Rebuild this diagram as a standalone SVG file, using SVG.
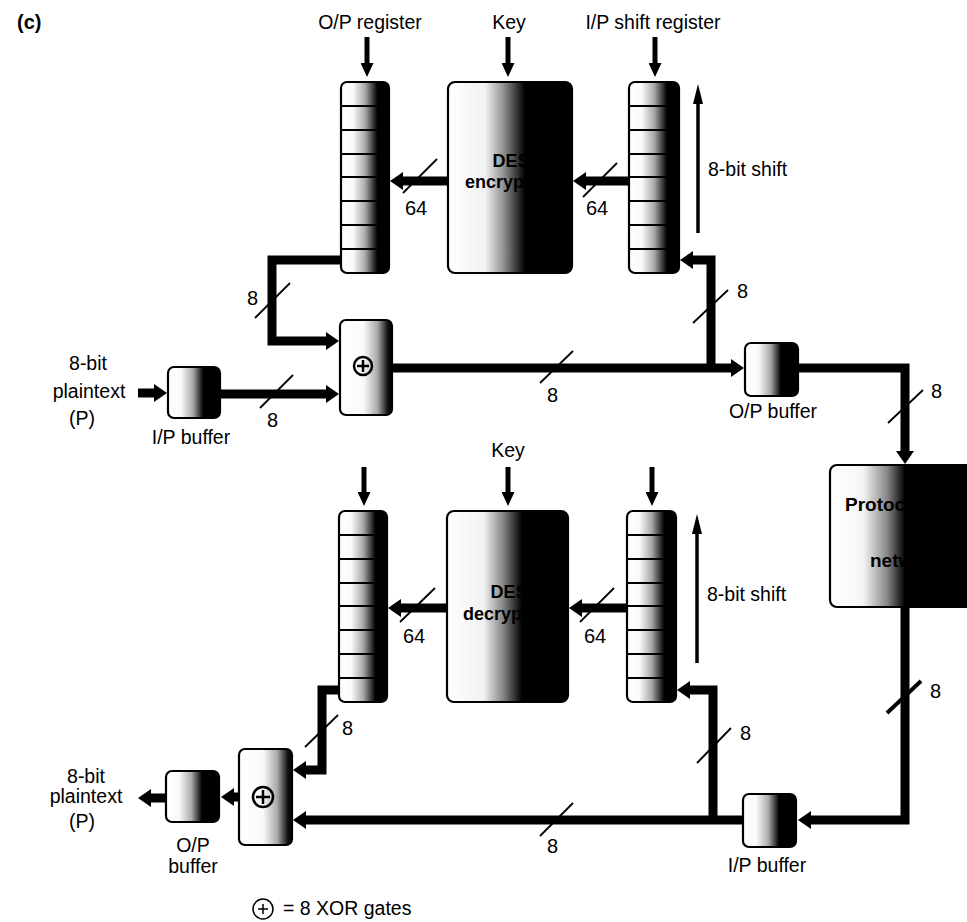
<svg xmlns="http://www.w3.org/2000/svg" width="967" height="922" viewBox="0 0 967 922">
<style>
text{font-family:"Liberation Sans",Arial,sans-serif;font-size:19.5px;fill:#000}
.b{font-weight:bold}
.c{text-anchor:middle}
.box{stroke:#000;stroke-width:2.2}
.cell{stroke:#000;stroke-width:1.8;fill:none}
.thick{fill:none;stroke:#000;stroke-width:9;stroke-linejoin:miter}
.thin{fill:none;stroke:#000;stroke-width:5}
.shift{fill:none;stroke:#000;stroke-width:3.5}
.slash{stroke:#000;stroke-width:1.8}
.num{font-size:20px}
</style>
<defs>
<linearGradient id="gReg" x1="0" x2="1" y1="0" y2="0">
<stop offset="0" stop-color="#fff"/><stop offset="0.25" stop-color="#fafafa"/><stop offset="0.5" stop-color="#aaa"/><stop offset="0.76" stop-color="#000"/><stop offset="1" stop-color="#000"/>
</linearGradient>
<linearGradient id="gDes" x1="0" x2="1" y1="0" y2="0">
<stop offset="0" stop-color="#fff"/><stop offset="0.3" stop-color="#f2f2f2"/><stop offset="0.46" stop-color="#888"/><stop offset="0.62" stop-color="#000"/><stop offset="1" stop-color="#000"/>
</linearGradient>
<linearGradient id="gBuf" x1="0" x2="1" y1="0" y2="0">
<stop offset="0" stop-color="#fff"/><stop offset="0.25" stop-color="#fafafa"/><stop offset="0.48" stop-color="#aaa"/><stop offset="0.68" stop-color="#000"/><stop offset="1" stop-color="#000"/>
</linearGradient>
<linearGradient id="gXor" x1="0" x2="1" y1="0" y2="0">
<stop offset="0" stop-color="#fff"/><stop offset="0.45" stop-color="#fafafa"/><stop offset="0.72" stop-color="#aaa"/><stop offset="0.92" stop-color="#111"/><stop offset="1" stop-color="#000"/>
</linearGradient>
<linearGradient id="gProto" gradientUnits="userSpaceOnUse" x1="830" x2="980" y1="0" y2="0">
<stop offset="0" stop-color="#fff"/><stop offset="0.22" stop-color="#f5f5f5"/><stop offset="0.38" stop-color="#888"/><stop offset="0.5" stop-color="#000"/><stop offset="1" stop-color="#000"/>
</linearGradient>
<marker id="ah" markerUnits="userSpaceOnUse" markerWidth="13" markerHeight="18" refX="1" refY="9" orient="auto">
<path d="M0,0 L13,9 L0,18 z" fill="#000"/>
</marker>
<marker id="ahs" markerUnits="userSpaceOnUse" markerWidth="14" markerHeight="13" refX="1" refY="6.5" orient="auto">
<path d="M0,0 L14,6.5 L0,13 z" fill="#000"/>
</marker>
<marker id="ahl" markerUnits="userSpaceOnUse" markerWidth="20" markerHeight="10" refX="1" refY="5" orient="auto">
<path d="M0,0 L20,5 L0,10 z" fill="#000"/>
</marker>
</defs>
<rect x="0" y="0" width="967" height="922" fill="#fff"/>

<text class="b" x="17" y="29" style="font-size:20px">(c)</text>

<!-- connectors -->
<g id="connectors">
<!-- top -->
<path class="thin" d="M367,37 V64" marker-end="url(#ahs)"/>
<path class="thin" d="M508,37 V64" marker-end="url(#ahs)"/>
<path class="thin" d="M655,37 V64" marker-end="url(#ahs)"/>
<path class="shift" d="M698,233 V103" marker-end="url(#ahl)"/>
<path class="thick" d="M629,181 H585" marker-end="url(#ah)"/>
<path class="thick" d="M448,181 H402" marker-end="url(#ah)"/>
<path class="thick" d="M343,260 H272 V341 H327" marker-end="url(#ah)"/>
<path class="thick" d="M138,393 H155" marker-end="url(#ah)"/>
<path class="thick" d="M220,394 H327" marker-end="url(#ah)"/>
<path class="thick" d="M392,368 H732" marker-end="url(#ah)"/>
<path class="thick" d="M711,372 V260 H692" marker-end="url(#ah)"/>
<path class="thick" d="M798,368 H905 V452" marker-end="url(#ah)"/>
<!-- bottom -->
<path class="thin" d="M364,467 V493" marker-end="url(#ahs)"/>
<path class="thin" d="M508,467 V493" marker-end="url(#ahs)"/>
<path class="thin" d="M652,467 V493" marker-end="url(#ahs)"/>
<path class="shift" d="M697,663 V533" marker-end="url(#ahl)"/>
<path class="thick" d="M905,607 V820 H810" marker-end="url(#ah)"/>
<path class="thick" d="M743,820 H305" marker-end="url(#ah)"/>
<path class="thick" d="M713,824 V690 H689" marker-end="url(#ah)"/>
<path class="thick" d="M627,608 H581" marker-end="url(#ah)"/>
<path class="thick" d="M447,608 H400" marker-end="url(#ah)"/>
<path class="thick" d="M341,690 H322 V770 H305" marker-end="url(#ah)"/>
<path class="thick" d="M240,797 H233" marker-end="url(#ah)"/>
<path class="thick" d="M167,798 H150" marker-end="url(#ah)"/>
<!-- bus width slashes -->
<line class="slash" x1="403" y1="193" x2="437" y2="159"/>
<line class="slash" x1="583" y1="197" x2="617" y2="163"/>
<line class="slash" x1="255" y1="318" x2="290" y2="283"/>
<line class="slash" x1="260" y1="408" x2="293" y2="375"/>
<line class="slash" x1="540" y1="383" x2="573" y2="351"/>
<line class="slash" x1="693" y1="323" x2="728" y2="290"/>
<line class="slash" x1="888" y1="423" x2="923" y2="390"/>
<line class="slash" x1="887" y1="713" x2="921" y2="681" style="stroke-width:4"/>
<line class="slash" x1="697" y1="763" x2="731" y2="728"/>
<line class="slash" x1="540" y1="836" x2="573" y2="803"/>
<line class="slash" x1="305" y1="747" x2="338" y2="715"/>
<line class="slash" x1="400" y1="622" x2="435" y2="588"/>
<line class="slash" x1="580" y1="622" x2="614" y2="588"/>
<text class="num" x="405" y="215">64</text>
<text class="num" x="586" y="215">64</text>
<text class="num" x="247" y="305">8</text>
<text class="num" x="267" y="427">8</text>
<text class="num" x="547" y="402">8</text>
<text class="num" x="737" y="298">8</text>
<text class="num" x="931" y="398">8</text>
<text class="num" x="930" y="698">8</text>
<text class="num" x="740" y="740">8</text>
<text class="num" x="547" y="853">8</text>
<text class="num" x="342" y="735">8</text>
<text class="num" x="403" y="643">64</text>
<text class="num" x="584" y="643">64</text>
<text x="708" y="176">8-bit shift</text>
<text x="707" y="601">8-bit shift</text>
</g>

<!-- top section -->
<g id="opreg-top">
<text class="c" x="370" y="29">O/P register</text>
<rect class="box" x="341" y="82" width="48" height="191" rx="6" fill="url(#gReg)"/>
<path class="cell" d="M341,106 h48 M341,130 h48 M341,154 h48 M341,177 h48 M341,201 h48 M341,225 h48 M341,249 h48"/>
</g>
<g id="des-enc">
<text class="c" x="509" y="29">Key</text>
<rect class="box" x="448" y="82" width="124" height="191" rx="7" fill="url(#gDes)"/>
<text class="b c" x="511" y="167" style="font-size:18px">DES</text>
<text class="b c" x="511" y="188" style="font-size:18px">encryption</text>
</g>
<g id="ipreg-top">
<text class="c" x="653" y="29">I/P shift register</text>
<rect class="box" x="629" y="82" width="50" height="191" rx="6" fill="url(#gReg)"/>
<path class="cell" d="M629,106 h50 M629,130 h50 M629,154 h50 M629,177 h50 M629,201 h50 M629,225 h50 M629,249 h50"/>
</g>
<g id="xor-top">
<rect class="box" x="340" y="320" width="52" height="95" rx="6" fill="url(#gXor)"/>
<circle cx="363" cy="366" r="9" fill="none" stroke="#000" stroke-width="2.5"/>
<path d="M363,360 V372 M357,366 H369" stroke="#000" stroke-width="2.5"/>
</g>
<g id="ipbuf-top">
<text class="c" x="88" y="370">8-bit</text>
<text class="c" x="89" y="398">plaintext</text>
<text class="c" x="82" y="425">(P)</text>
<rect class="box" x="168" y="367" width="52" height="51" rx="6" fill="url(#gBuf)"/>
<text class="c" x="191" y="444">I/P buffer</text>
</g>
<g id="opbuf-top">
<rect class="box" x="745" y="343" width="53" height="53" rx="6" fill="url(#gBuf)"/>
<text class="c" x="773" y="418">O/P buffer</text>
</g>
<g id="protocol">
<rect class="box" x="830" y="465" width="160" height="142" rx="7" fill="url(#gProto)"/>
<text class="b" x="845" y="511" style="font-size:19px">Protocol</text>
<text class="b" x="870" y="567" style="font-size:19px">network</text>
</g>

<!-- bottom section -->
<g id="opreg-bot">
<rect class="box" x="339" y="511" width="48" height="191" rx="6" fill="url(#gReg)"/>
<path class="cell" d="M339,535 h48 M339,559 h48 M339,583 h48 M339,606 h48 M339,630 h48 M339,654 h48 M339,678 h48"/>
</g>
<g id="des-dec">
<text class="c" x="508" y="457">Key</text>
<rect class="box" x="447" y="511" width="121" height="191" rx="7" fill="url(#gDes)"/>
<text class="b c" x="509" y="598" style="font-size:18px">DES</text>
<text class="b c" x="509" y="620" style="font-size:18px">decryption</text>
</g>
<g id="ipreg-bot">
<rect class="box" x="627" y="511" width="49" height="191" rx="6" fill="url(#gReg)"/>
<path class="cell" d="M627,535 h49 M627,559 h49 M627,583 h49 M627,606 h49 M627,630 h49 M627,654 h49 M627,678 h49"/>
</g>
<g id="xor-bot">
<rect class="box" x="239" y="749" width="53" height="96" rx="6" fill="url(#gXor)"/>
<circle cx="263" cy="797" r="10" fill="none" stroke="#000" stroke-width="2.5"/>
<path d="M263,790 V804 M256,797 H270" stroke="#000" stroke-width="2.5"/>
</g>
<g id="opbuf-bot">
<rect class="box" x="166" y="771" width="53" height="51" rx="6" fill="url(#gBuf)"/>
<text class="c" x="193" y="852">O/P</text>
<text class="c" x="193" y="873">buffer</text>
<text class="c" x="86" y="783">8-bit</text>
<text class="c" x="86" y="803">plaintext</text>
<text class="c" x="82" y="828">(P)</text>
</g>
<g id="ipbuf-bot">
<rect class="box" x="743" y="794" width="53" height="53" rx="6" fill="url(#gBuf)"/>
<text class="c" x="767" y="872">I/P buffer</text>
</g>
<g id="legend">
<circle cx="263" cy="909" r="10" fill="none" stroke="#000" stroke-width="1.5"/>
<path d="M263,904 V914 M258,909 H268" stroke="#000" stroke-width="1.5"/>
<text x="283" y="915">= 8 XOR gates</text>
</g>
</svg>
